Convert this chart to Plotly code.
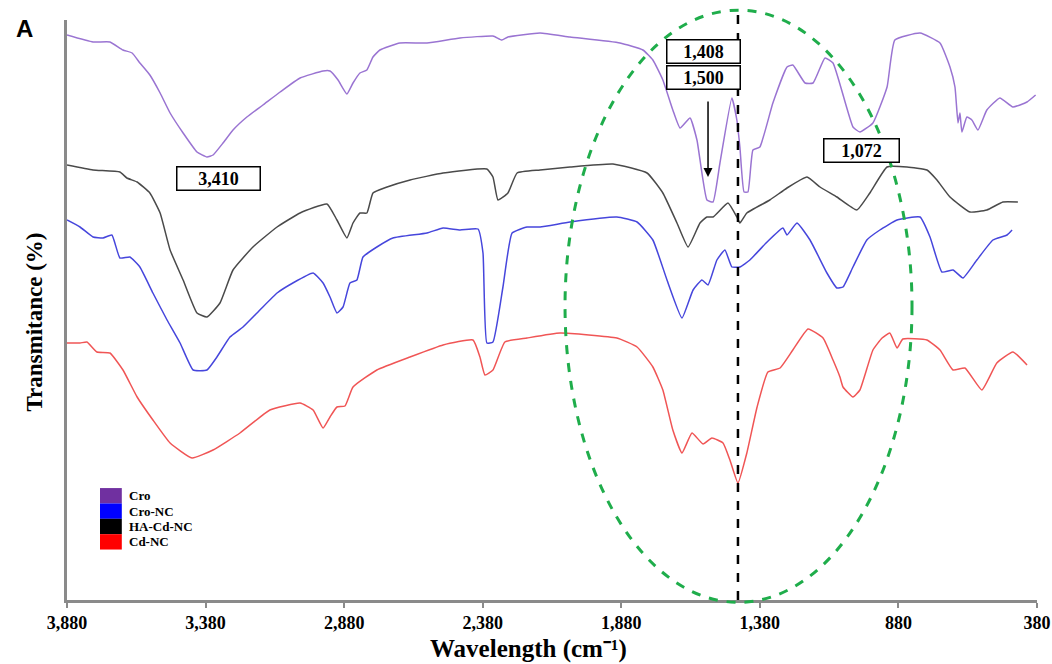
import plotly.graph_objects as go

# ---------------- data (wavenumber cm-1, transmittance in arbitrary offset units) ----------------
cro_x = [3880, 3786, 3725, 3678, 3645, 3617, 3581, 3544, 3508, 3461, 3411, 3375, 3353, 3317, 3281, 3231,
         3173, 3111, 3039, 2956, 2931, 2902, 2870, 2848, 2823, 2798, 2776, 2751, 2679, 2581, 2462, 2343,
         2311, 2289, 2173, 2065, 1885, 1802, 1766, 1730, 1694, 1668, 1632, 1607, 1571, 1549, 1524, 1481,
         1463, 1452, 1437, 1423, 1405, 1380, 1333, 1282, 1261, 1217, 1188, 1145, 1116, 1044, 1019, 972,
         921, 893, 802, 730, 694, 676, 665, 658, 651, 633, 615, 593, 561, 514, 467, 416, 385]
cro_y = [565, 558, 558, 550, 547, 537, 525, 507, 487, 467, 448, 443, 445, 457, 470, 483,
         495, 508, 522, 529, 529, 520, 506, 517, 527, 530, 543, 550, 557, 557, 562, 564,
         560, 563, 567, 563, 557, 550, 540, 520, 490, 472, 482, 460, 400, 398, 437, 502,
         480, 453, 408, 408, 450, 453, 497, 533, 535, 517, 517, 542, 537, 473, 468, 477,
         513, 560, 567, 557, 533, 513, 477, 487, 468, 483, 480, 470, 490, 502, 493, 498, 505]

ha_x = [3880, 3786, 3689, 3664, 3627, 3581, 3544, 3508, 3461, 3411, 3375, 3328, 3281, 3209, 3122, 3039,
        2942, 2906, 2870, 2848, 2823, 2798, 2776, 2725, 2642, 2523, 2365, 2343, 2325, 2289, 2256, 2173,
        2065, 1910, 1787, 1730, 1679, 1639, 1596, 1571, 1549, 1495, 1463, 1452, 1427, 1344, 1282, 1210,
        1163, 1102, 1030, 983, 921, 849, 777, 741, 694, 622, 561, 503, 449]
ha_y = [435, 430, 428, 422, 418, 407, 387, 350, 320, 287, 283, 297, 330, 353, 373, 387,
        396, 380, 362, 377, 387, 387, 407, 413, 420, 427, 431, 423, 400, 407, 427, 430,
        433, 436, 427, 407, 377, 353, 377, 383, 383, 397, 383, 377, 387, 400, 412, 423,
        413, 403, 390, 407, 433, 433, 430, 420, 403, 388, 390, 398, 398]

crnc_x = [3880, 3833, 3786, 3750, 3718, 3689, 3653, 3617, 3570, 3519, 3472, 3425, 3375, 3339, 3292, 3245,
          3184, 3122, 3065, 2992, 2956, 2931, 2906, 2884, 2859, 2834, 2812, 2762, 2704, 2581, 2523, 2462,
          2397, 2379, 2365, 2343, 2307, 2274, 2220, 2173, 2065, 1896, 1823, 1766, 1715, 1661, 1621, 1589,
          1567, 1535, 1506, 1481, 1452, 1416, 1354, 1297, 1282, 1246, 1199, 1138, 1102, 1080, 1044, 994,
          947, 885, 802, 766, 723, 683, 647, 597, 539, 488, 470]
crnc_y = [380, 373, 363, 362, 365, 342, 343, 333, 307, 280, 257, 230, 230, 243, 263, 273,
          290, 307, 317, 327, 317, 303, 287, 293, 317, 320, 343, 353, 362, 367, 372, 370,
          371, 347, 257, 258, 313, 367, 373, 373, 378, 383, 378, 360, 320, 282, 310, 320,
          315, 340, 350, 333, 333, 340, 358, 372, 365, 377, 360, 327, 312, 313, 333, 360,
          370, 380, 383, 363, 328, 330, 322, 340, 360, 365, 370]

cd_x = [3880, 3833, 3808, 3772, 3725, 3678, 3627, 3570, 3508, 3429, 3353, 3256, 3148, 3039, 2992, 2956,
        2931, 2906, 2877, 2848, 2762, 2642, 2523, 2415, 2390, 2372, 2343, 2300, 2220, 2101, 1896, 1823,
        1766, 1730, 1694, 1661, 1625, 1585, 1553, 1513, 1488, 1459, 1427, 1390, 1351, 1307, 1261, 1206,
        1152, 1116, 1091, 1080, 1044, 1019, 972, 939, 911, 885, 864, 777, 730, 683, 640, 579, 525, 467, 416]
cd_y = [257, 257, 258, 248, 247, 230, 203, 180, 157, 142, 150, 167, 190, 197, 190, 172,
        183, 193, 194, 213, 230, 243, 255, 260, 243, 225, 230, 258, 262, 267, 262, 253,
        233, 210, 170, 147, 167, 156, 162, 157, 140, 117, 147, 193, 228, 232, 250, 271,
        262, 240, 223, 213, 203, 210, 250, 262, 267, 252, 261, 260, 250, 230, 232, 210, 237, 248, 235]

tick_vals = [3880, 3380, 2880, 2380, 1880, 1380, 880, 380]
tick_text = ["3,880", "3,380", "2,880", "2,380", "1,880", "1,380", "880", "380"]

series_names = ["Cro", "Cro-NC", "HA-Cd-NC", "Cd-NC"]
line_colors = ["#9a74d2", "#4646dc", "#4a4a4a", "#f05555"]
swatch_colors = ["#7030a0", "#0000ff", "#000000", "#ff0000"]

peak_labels = ["3,410", "1,408", "1,500", "1,072"]
marked_band = 1459          # dashed vertical marker position
region_band = (2083, 831)   # highlighted region (ellipse)

# ---------------- figure ----------------
serif = "Liberation Serif"
fig = go.Figure()
data_xy = {
    "Cro": (cro_x, cro_y),
    "Cro-NC": (crnc_x, crnc_y),
    "HA-Cd-NC": (ha_x, ha_y),
    "Cd-NC": (cd_x, cd_y),
}
for name, col in zip(series_names, line_colors):
    xs, ys = data_xy[name]
    fig.add_trace(go.Scatter(x=xs, y=ys, mode="lines", name=name,
                             line=dict(color=col, width=1.5, shape="spline", smoothing=0.4),
                             showlegend=False))

shapes = []
# ellipse region
shapes.append(dict(type="circle", xref="x", yref="paper", x0=region_band[0], x1=region_band[1],
                   y0=-0.004, y1=1.017, line=dict(color="#1fad4b", width=3, dash="dash")))
# dashed vertical line
shapes.append(dict(type="line", xref="x", yref="paper", x0=marked_band, x1=marked_band,
                   y0=0, y1=1.017, line=dict(color="black", width=2.5, dash="dash")))
# legend swatches
sw_top = 0.193
sw_h = 0.0265
for i, c in enumerate(swatch_colors):
    shapes.append(dict(type="rect", xref="paper", yref="paper",
                       x0=0.034, x1=0.0565, y0=sw_top - (i + 1) * sw_h, y1=sw_top - i * sw_h,
                       fillcolor=c, line=dict(width=0)))
fig.update_layout(shapes=shapes)

annotations = []
for i, name in enumerate(series_names):
    annotations.append(dict(xref="paper", yref="paper", x=0.062, y=sw_top - (i + 0.5) * sw_h,
                            text="<b>%s</b>" % name, showarrow=False, xanchor="left", yanchor="middle",
                            font=dict(family=serif, size=13, color="black")))

box_font = dict(family=serif, size=18, color="black")
box_pos = [(3335, 422), (1585, 549), (1585, 523), (1015, 450)]
box_w = [80, 70, 70, 72]
for lab, (bx, by), w in zip(peak_labels, box_pos, box_w):
    annotations.append(dict(x=bx, y=by, xref="x", yref="y", text="<b>%s</b>" % lab, showarrow=False,
                            font=box_font, bgcolor="white", bordercolor="black", borderwidth=1.5,
                            width=w, height=20, borderpad=1))
# arrow pointing to the 1,500 band
annotations.append(dict(x=1567, y=423, ax=1567, ay=500, xref="x", yref="y", axref="x", ayref="y",
                        text="", showarrow=True, arrowhead=2, arrowsize=1.2, arrowwidth=1.5,
                        arrowcolor="black"))
# panel letter
annotations.append(dict(xref="paper", yref="paper", x=-0.0433, y=0.986, text="<b>A</b>", showarrow=False,
                        xanchor="center", yanchor="middle",
                        font=dict(family="Liberation Sans", size=24, color="black")))
# y axis title
annotations.append(dict(xref="paper", yref="paper", x=-0.033, y=0.48, text="<b>Transmitance (%)</b>",
                        textangle=-90, showarrow=False, xanchor="center", yanchor="middle",
                        font=dict(family=serif, size=23, color="black")))
# x axis title
annotations.append(dict(xref="paper", yref="paper", x=0.476, y=-0.085,
                        text="<b>Wavelength (cm⁻¹)</b>",
                        showarrow=False, xanchor="center", yanchor="middle",
                        font=dict(family=serif, size=25, color="black")))
fig.update_layout(annotations=annotations)

fig.update_xaxes(range=[3880, 380], tickvals=tick_vals, ticktext=["<b>%s</b>" % t for t in tick_text],
                 showline=True, linecolor="#8a8a8a", linewidth=2.5, showgrid=False, zeroline=False,
                 ticks="outside", ticklen=5, tickcolor="#8a8a8a", tickwidth=1.5,
                 tickfont=dict(family=serif, size=18, color="black"))
fig.update_yaxes(range=[0, 580], showline=True, linecolor="#8a8a8a", linewidth=2.5, showgrid=False,
                 zeroline=False, showticklabels=False, ticks="")

fig.update_layout(width=1052, height=664, margin=dict(l=67, r=15, t=20, b=64, autoexpand=False),
                  plot_bgcolor="white", paper_bgcolor="white")

fig.write_html("out.html", config={"displayModeBar": False},
               post_script="document.body.style.margin='0';document.body.style.overflow='hidden';")
